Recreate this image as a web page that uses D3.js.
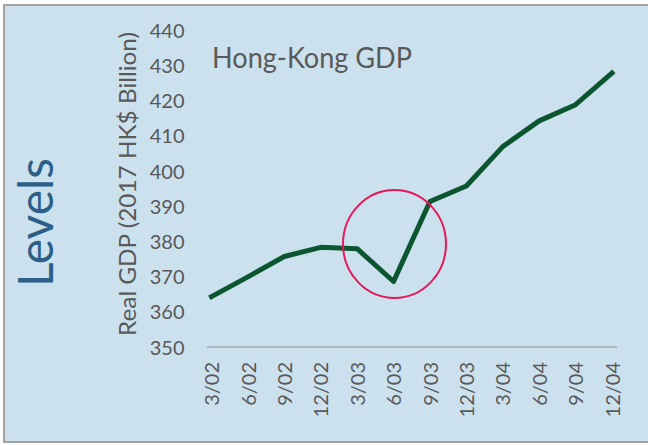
<!DOCTYPE html>
<html>
<head>
<meta charset="utf-8">
<script src="https://cdn.jsdelivr.net/npm/d3@7"></script>
<style>
  html, body { margin: 0; padding: 0; background: #fff; }
  svg { display: block; }
  text { font-family: Lato, "Open Sans", sans-serif; }
</style>
</head>
<body>
<svg id="chart" width="648" height="445"></svg>
<script>
// Data
const categories = ["3/02","6/02","9/02","12/02","3/03","6/03","9/03","12/03","3/04","6/04","9/04","12/04"];
const gdpValues = [364.3, 369.9, 375.7, 378.3, 377.9, 368.6, 391.3, 395.7, 406.9, 414.2, 418.8, 427.8];
const yTicks = [350, 360, 370, 380, 390, 400, 410, 420, 430, 440];
const titleText = "Hong-Kong GDP";
const yTitleText = "Real GDP (2017 HK$ Billion)";
const sideText = "Levels";

const svg = d3.select("#chart");

// background + border
svg.append("rect").attr("x", 0).attr("y", 0).attr("width", 648).attr("height", 445).attr("fill", "#ffffff");
svg.append("rect")
  .attr("x", 4).attr("y", 5).attr("width", 650).attr("height", 437)
  .attr("fill", "#cce1ee").attr("stroke", "#a3a3a3").attr("stroke-width", 2);

const x = d3.scalePoint().domain(categories).range([211.5, 612]);
const y = d3.scaleLinear().domain([350, 440]).range([347, 30]);

// y tick labels (no axis line)
const yAxis = d3.axisLeft(y).tickValues(yTicks).tickSize(0).tickPadding(0).tickFormat(d3.format("d"));
const gy = svg.append("g").attr("transform", "translate(184.5,0)").call(yAxis);
gy.select(".domain").remove();
gy.selectAll("text")
  .attr("fill", "#595959")
  .style("font-size", "20px")
  .attr("dy", "0.36em");

// x axis line
svg.append("line")
  .attr("x1", 207).attr("x2", 617)
  .attr("y1", y(350)).attr("y2", y(350))
  .attr("stroke", "#a7abaf").attr("stroke-width", 1.6);

// x tick labels
const xAxis = d3.axisBottom(x).tickSize(0).tickPadding(0);
const gx = svg.append("g").attr("transform", "translate(0,362)").call(xAxis);
gx.select(".domain").remove();
gx.selectAll("text")
  .attr("fill", "#595959")
  .style("font-size", "20px")
  .attr("text-anchor", "end")
  .attr("transform", "rotate(-90)")
  .attr("x", 0).attr("y", 0)
  .attr("dy", "0.36em");

// line
const line = d3.line().x((d, i) => x(categories[i])).y(d => y(d));
svg.append("path")
  .datum(gdpValues)
  .attr("d", line)
  .attr("fill", "none")
  .attr("stroke", "#0b5631")
  .attr("stroke-width", 5)
  .attr("stroke-linejoin", "round")
  .attr("stroke-linecap", "square");

// highlight ellipse
svg.append("ellipse")
  .attr("cx", 394.5).attr("cy", 244)
  .attr("rx", 51.5).attr("ry", 54)
  .attr("fill", "none")
  .attr("stroke", "#e5195a").attr("stroke-width", 2);

// title
svg.append("text")
  .attr("x", 212).attr("y", 68)
  .attr("fill", "#595959")
  .style("font-size", "28px")
  .attr("textLength", 200).attr("lengthAdjust", "spacingAndGlyphs")
  .text(titleText);

// y title
svg.append("text")
  .attr("transform", "translate(136,184) rotate(-90)")
  .attr("text-anchor", "middle")
  .attr("fill", "#595959")
  .style("font-size", "23px")
  .attr("textLength", 304).attr("lengthAdjust", "spacingAndGlyphs")
  .text(yTitleText);

// side label
svg.append("text")
  .attr("transform", "translate(52.5,222.5) rotate(-90)")
  .attr("text-anchor", "middle")
  .attr("fill", "#2c5f87")
  .style("font-size", "48px")
  .attr("textLength", 129).attr("lengthAdjust", "spacingAndGlyphs")
  .text(sideText);
</script>
</body>
</html>
